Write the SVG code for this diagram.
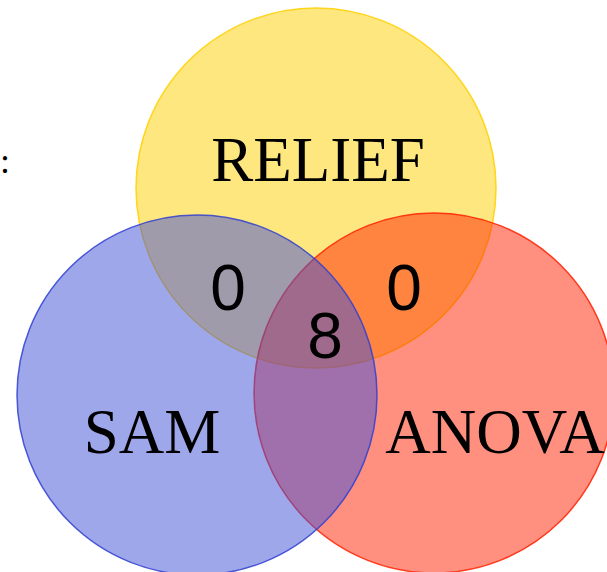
<svg xmlns="http://www.w3.org/2000/svg" width="607" height="572" viewBox="0 0 607 572">
  <style>
    .set { fill-opacity: 0.5; stroke-width: 1.5; stroke-opacity: 0.85; }
    .lbl { font-family: "Liberation Serif", "Times New Roman", serif; font-size: 63px; fill: #000; text-anchor: middle; }
    .num { font-family: "Liberation Sans", Arial, sans-serif; font-size: 64px; fill: #000; text-anchor: middle; }
  </style>
  <rect width="607" height="572" fill="#ffffff"/>
  <text x="10" y="173" font-family="Liberation Serif, serif" font-size="36" text-anchor="end" fill="#000">:</text>
  <g id="relief">
    <circle class="set" cx="316" cy="188" r="180" fill="#FFD000" stroke="#FFD000"/>
  </g>
  <g id="anova">
    <circle class="set" cx="434" cy="393" r="180" fill="#FF2200" stroke="#FF2200"/>
  </g>
  <g id="sam">
    <circle class="set" cx="197" cy="395" r="180" fill="#4050D8" stroke="#3040D0"/>
  </g>
  <g id="labels">
    <text class="lbl" x="318" y="181">RELIEF</text>
    <text class="lbl" x="152" y="453">SAM</text>
    <text class="lbl" x="495" y="453">ANOVA</text>
    <text class="num" x="228" y="310">0</text>
    <text class="num" x="404" y="310">0</text>
    <text class="num" x="325" y="358">8</text>
  </g>
  <g id="connectors"/>
</svg>
